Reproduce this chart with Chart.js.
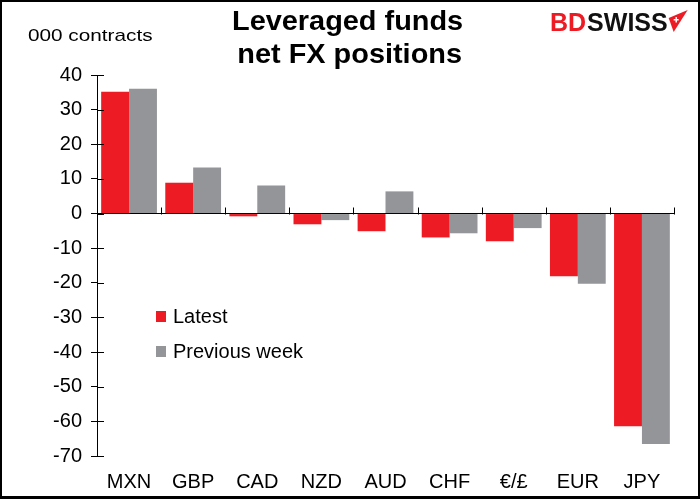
<!DOCTYPE html>
<html lang="en">
<head>
<meta charset="UTF-8">
<title>Leveraged funds net FX positions</title>
<script src="https://cdn.jsdelivr.net/npm/chart.js"></script>
<style>
    html, body { margin: 0; padding: 0; background: #fff; overflow: hidden; }
    #wrap { position: relative; width: 700px; height: 499px; }
    #frame { position: absolute; left: 0; top: 0; width: 700px; height: 499px; box-sizing: border-box; border: 2px solid #000; border-bottom-width: 3px; pointer-events: none; }
    canvas { display: block; }
</style>
</head>
<body>
<div id="wrap"><canvas id="chart" width="700" height="499"></canvas><div id="frame"></div></div>
<script>
    const currencies = ['MXN', 'GBP', 'CAD', 'NZD', 'AUD', 'CHF', '€/£', 'EUR', 'JPY'];
    const latest = [35.2, 8.9, -0.8, -3.1, -5.1, -6.9, -8.0, -18.1, -61.4];
    const previousWeek = [36.0, 13.3, 8.1, -1.9, 6.4, -5.7, -4.2, -20.3, -66.5];
    const yTicks = { min: -70, max: 40, step: 10 };

    const RED = '#ed1c24';
    const GREY = '#939598';
    const FONT = '"Liberation Sans", Arial, sans-serif';

    // text drawn a bit wider than the font, like the original
    function wideText(ctx, text, x, y, sx) {
        ctx.save();
        ctx.translate(x, y);
        ctx.scale(sx, 1);
        ctx.fillText(text, 0, 0);
        ctx.restore();
    }

    // titles, unit label, logo, inner tick marks and the in-plot legend
    const decor = {
        id: 'decor',
        afterDraw(chart) {
            const ctx = chart.ctx;
            const area = chart.chartArea;
            const ys = chart.scales.y;
            const xs = chart.scales.x;
            ctx.save();

            // y ticks also cross to the inside of the axis
            ctx.strokeStyle = '#000';
            ctx.lineWidth = 1;
            ys.ticks.forEach(t => {
                const py = Math.round(ys.getPixelForValue(t.value)) + 0.5;
                ctx.beginPath();
                ctx.moveTo(area.left, py);
                ctx.lineTo(area.left + 7, py);
                ctx.stroke();
            });

            // category boundary ticks standing up on the zero line
            const zero = Math.round(ys.getPixelForValue(0)) + 0.5;
            const half = (xs.getPixelForValue(1) - xs.getPixelForValue(0)) / 2;
            for (let i = 0; i < currencies.length; i++) {
                const px = Math.round(xs.getPixelForValue(i) + half) + 0.5;
                ctx.beginPath();
                ctx.moveTo(px, zero);
                ctx.lineTo(px, zero - 7);
                ctx.stroke();
            }

            ctx.fillStyle = '#000';
            ctx.textAlign = 'left';
            ctx.textBaseline = 'alphabetic';
            ctx.font = 'bold 27px ' + FONT;
            wideText(ctx, 'Leveraged funds', 232, 30, 1.07);
            ctx.font = 'bold 27px ' + FONT;
            const w2 = ctx.measureText('net FX positions').width * 1.07;
            wideText(ctx, 'net FX positions', 462 - w2, 63, 1.07);

            ctx.font = '17px ' + FONT;
            wideText(ctx, '000 contracts', 28, 41, 1.22);

            // logo
            ctx.font = 'bold 25px ' + FONT;
            ctx.fillStyle = RED;
            ctx.fillText('BD', 550, 31);
            const bdW = ctx.measureText('BD').width;
            ctx.fillStyle = '#111';
            ctx.fillText('SWISS', 551 + bdW, 31);
            const sx = 551 + bdW + ctx.measureText('SWISS').width;
            ctx.fillStyle = RED;
            ctx.beginPath();
            ctx.moveTo(sx + 1, 18);
            ctx.lineTo(sx + 20, 10);
            ctx.lineTo(sx + 6, 32);
            ctx.closePath();
            ctx.fill();
            ctx.fillStyle = '#fff';
            ctx.fillRect(sx + 6, 19, 5, 1.5);
            ctx.fillRect(sx + 7.8, 17, 1.5, 5.5);

            // legend
            ctx.textBaseline = 'alphabetic';
            ctx.font = '20px ' + FONT;
            chart.data.datasets.forEach((ds, i) => {
                const y = area.top + 241 + i * 35;
                ctx.fillStyle = ds.backgroundColor;
                ctx.fillRect(area.left + 59, y - 5, 10, 11);
                ctx.fillStyle = '#000';
                ctx.fillText(ds.label, area.left + 76, y + 7);
            });
            ctx.restore();
        }
    };

    new Chart(document.getElementById('chart'), {
        type: 'bar',
        data: {
            labels: currencies,
            datasets: [
                { label: 'Latest', data: latest, backgroundColor: RED },
                { label: 'Previous week', data: previousWeek, backgroundColor: GREY }
            ]
        },
        options: {
            responsive: false,
            animation: false,
            devicePixelRatio: 1,
            layout: { padding: { top: 75, right: 26, left: 0, bottom: 0 } },
            datasets: { bar: { categoryPercentage: 0.87, barPercentage: 1 } },
            plugins: {
                legend: { display: false },
                tooltip: { enabled: false }
            },
            scales: {
                x: {
                    position: 'bottom',
                    grid: { display: false },
                    border: { display: false },
                    ticks: { color: '#000', font: { family: FONT, size: 20 }, padding: 6, maxRotation: 0, autoSkip: false },
                    afterFit: s => { s.height = 43; }
                },
                x0: {
                    type: 'category',
                    labels: currencies,
                    position: { y: 0 },
                    offset: true,
                    ticks: { display: false },
                    grid: { display: false },
                    border: { display: true, color: '#000', width: 1 }
                },
                y: {
                    min: yTicks.min,
                    max: yTicks.max,
                    ticks: { stepSize: yTicks.step, color: '#000', font: { family: FONT, size: 20 }, padding: 9 },
                    grid: { drawOnChartArea: false, tickLength: 6, color: '#000' },
                    border: { display: true, color: '#000', width: 1 },
                    afterFit: s => { s.width = 97; }
                }
            }
        },
        plugins: [decor]
    });
</script>
</body>
</html>
